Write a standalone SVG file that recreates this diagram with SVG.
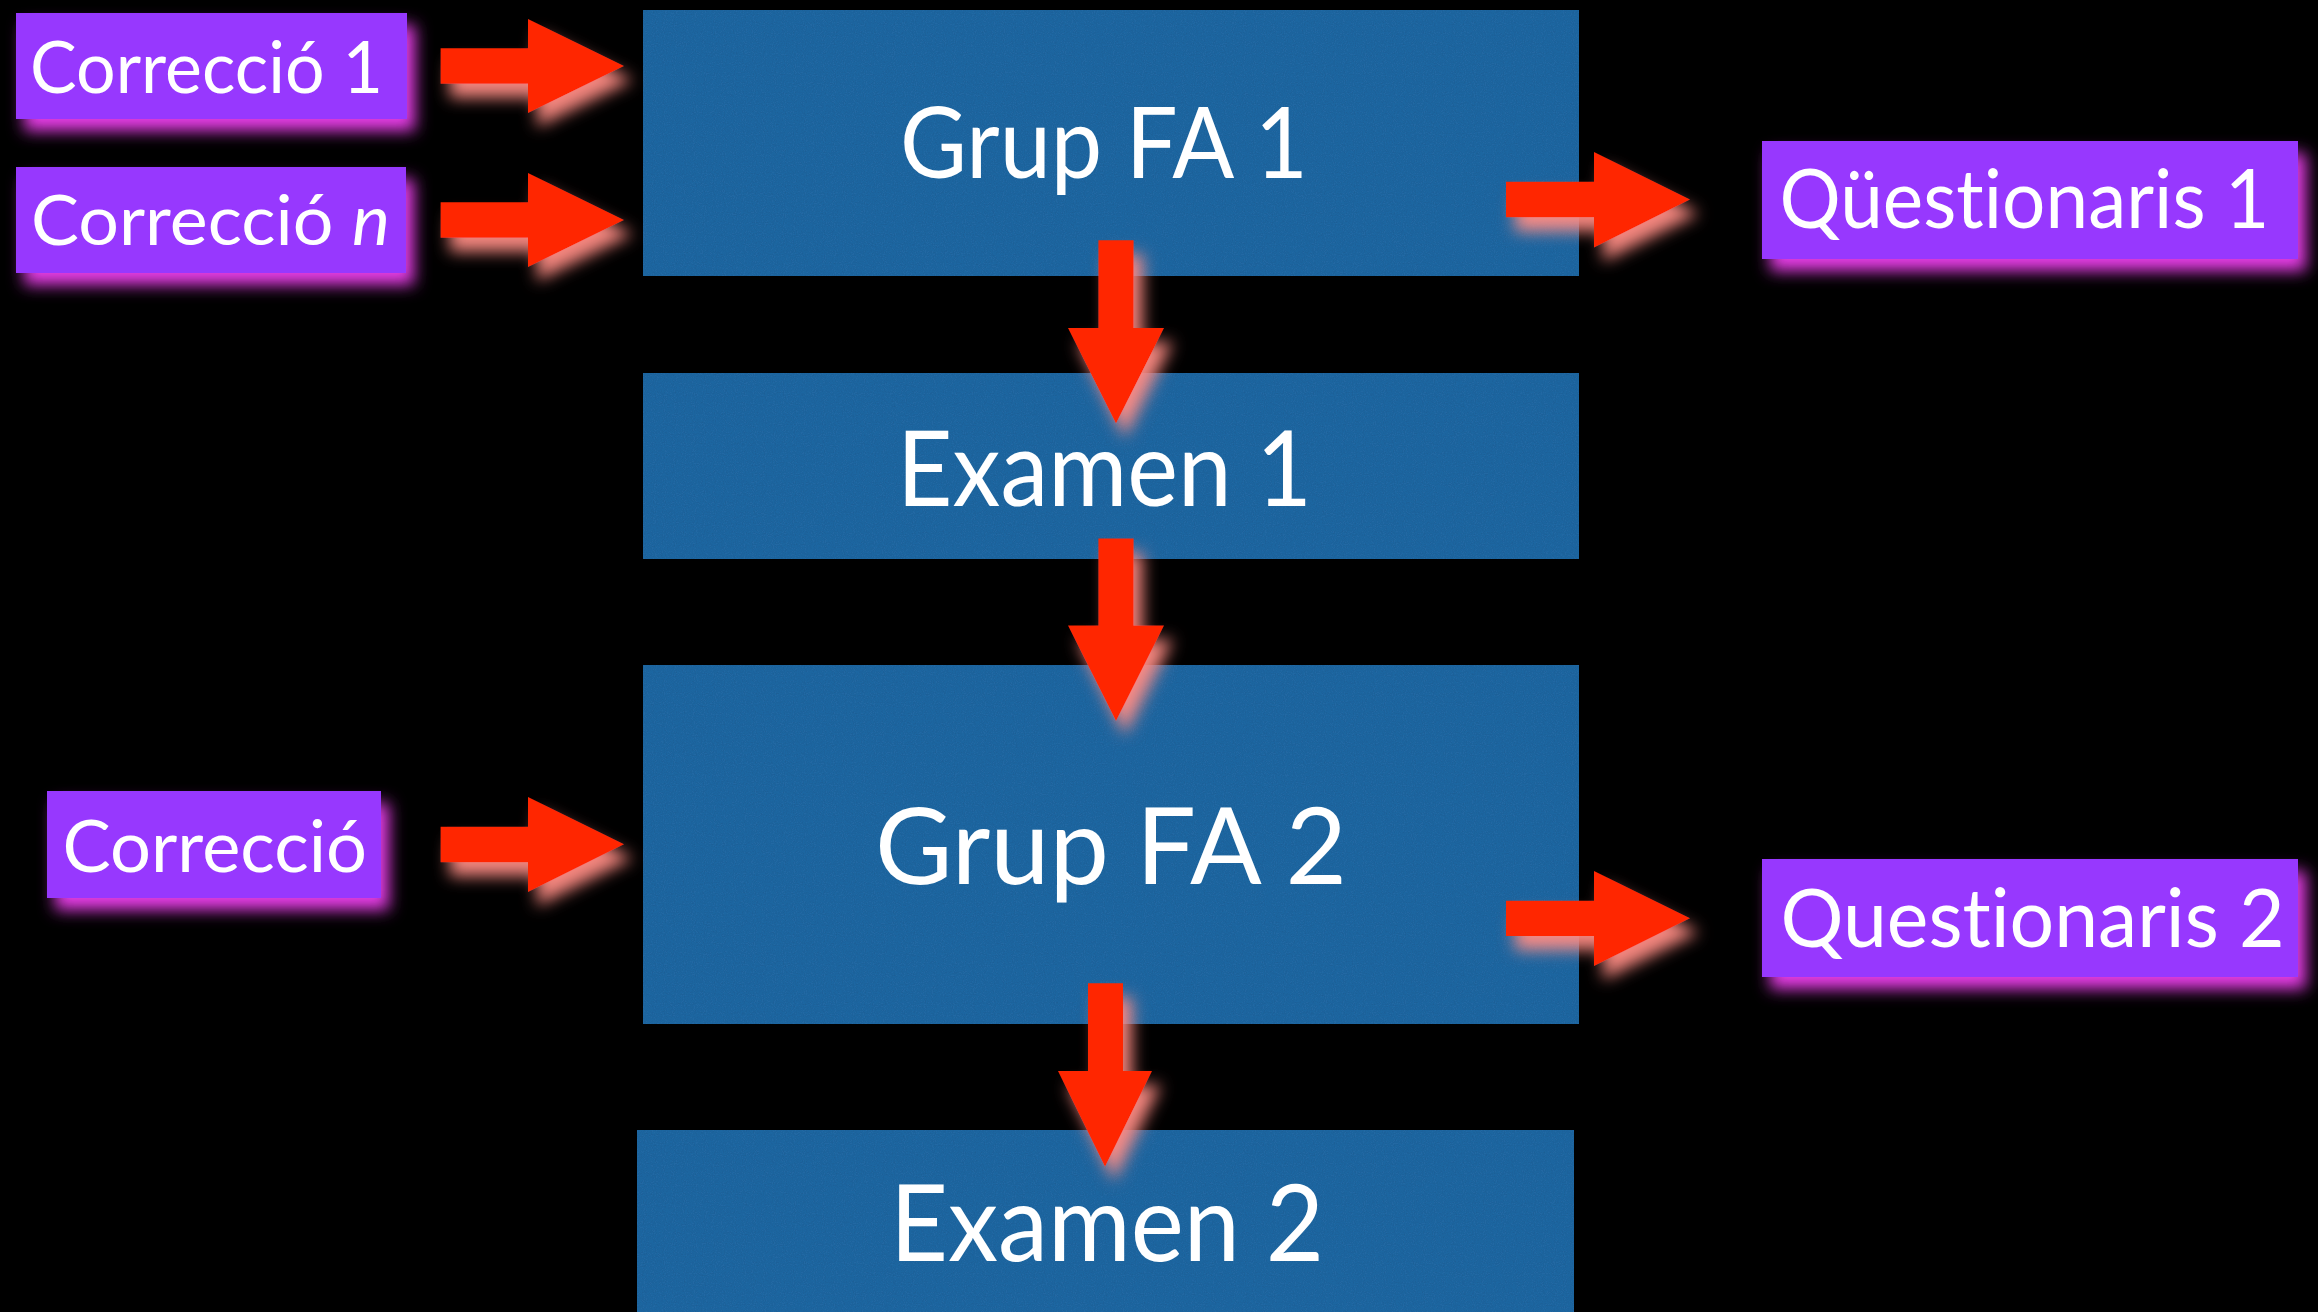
<svg xmlns="http://www.w3.org/2000/svg" width="2318" height="1312" viewBox="0 0 2318 1312">
  <style>
    .stage { fill: #2367a3; filter: url(#grain); }
    .tag { fill: #9738fe; filter: url(#tagGlow); }
    .big, .small { font-family: Lato, "Open Sans", "Liberation Sans", sans-serif; fill: #ffffff; font-variant-ligatures: none; font-feature-settings: "liga" 0, "dlig" 0; }
    .arrow { fill: #ff2600; filter: url(#arrowGlow); }
  </style>
  <defs>
    <!-- fine paper grain on the blue stage boxes -->
    <filter id="grain" x="0" y="0" width="100%" height="100%">
      <feTurbulence type="fractalNoise" baseFrequency="0.9" numOctaves="2" seed="4" result="noise"/>
      <feColorMatrix in="noise" type="matrix" values="0 0 0 0 0  0 0 0 0 0  0 0 0 0 0  0.3 0 0 0 -0.1" result="dots"/>
      <feComposite in="dots" in2="SourceGraphic" operator="in" result="speck"/>
      <feMerge>
        <feMergeNode in="SourceGraphic"/>
        <feMergeNode in="speck"/>
      </feMerge>
    </filter>
    <!-- magenta glow under the purple tags -->
    <filter id="tagGlow" x="-15%" y="-30%" width="140%" height="180%">
      <feGaussianBlur in="SourceAlpha" stdDeviation="8"/>
      <feOffset dx="8" dy="12" result="blur"/>
      <feFlood flood-color="#e63de6"/>
      <feComposite in2="blur" operator="in"/>
      <feMerge>
        <feMergeNode/>
        <feMergeNode in="SourceGraphic"/>
      </feMerge>
    </filter>
    <!-- soft salmon shadow under the red arrows -->
    <filter id="arrowGlow" x="-30%" y="-30%" width="170%" height="170%">
      <feGaussianBlur in="SourceAlpha" stdDeviation="8"/>
      <feOffset dx="9" dy="14" result="blur"/>
      <feFlood flood-color="#ff8c84" flood-opacity="0.95"/>
      <feComposite in2="blur" operator="in"/>
      <feMerge>
        <feMergeNode/>
        <feMergeNode in="SourceGraphic"/>
      </feMerge>
    </filter>
  </defs>

  <rect width="2318" height="1312" fill="#000000"/>

  <!-- main flow -->
  <g id="grup-fa-1">
    <rect class="stage" x="643" y="10" width="936" height="266"/>
    <text class="big" x="900" y="177.5" font-size="99" textLength="408" lengthAdjust="spacingAndGlyphs">Grup FA 1</text>
  </g>
  <g id="examen-1">
    <rect class="stage" x="643" y="373" width="936" height="186"/>
    <text class="big" x="897" y="505.5" font-size="105" textLength="415" lengthAdjust="spacingAndGlyphs">Examen 1</text>
  </g>
  <g id="grup-fa-2">
    <rect class="stage" x="643" y="665" width="936" height="359"/>
    <text class="big" x="875" y="884" font-size="106" textLength="472" lengthAdjust="spacingAndGlyphs">Grup FA 2</text>
  </g>
  <g id="examen-2">
    <rect class="stage" x="637" y="1130" width="937" height="200"/>
    <text class="big" x="890" y="1261" font-size="107" textLength="434" lengthAdjust="spacingAndGlyphs">Examen 2</text>
  </g>

  <!-- inputs -->
  <g id="correccio-1">
    <rect class="tag" x="16" y="13" width="391" height="106"/>
    <text class="small" x="30" y="92.7" font-size="71" textLength="353" lengthAdjust="spacingAndGlyphs">Correcció 1</text>
  </g>
  <g id="correccio-n">
    <rect class="tag" x="16" y="167" width="390" height="106"/>
    <text class="small" x="31" y="245" font-size="70" textLength="359" lengthAdjust="spacingAndGlyphs">Correcció <tspan font-style="italic">n</tspan></text>
  </g>
  <g id="correccio">
    <rect class="tag" x="47" y="791" width="334" height="107"/>
    <text class="small" x="62.5" y="871.7" font-size="72" textLength="304.5" lengthAdjust="spacingAndGlyphs">Correcció</text>
  </g>

  <!-- outputs -->
  <g id="questionaris-1">
    <rect class="tag" x="1762" y="141" width="536" height="118"/>
    <text class="small" x="1779.5" y="228.3" font-size="81" textLength="490" lengthAdjust="spacingAndGlyphs">Qüestionaris 1</text>
  </g>
  <g id="questionaris-2">
    <rect class="tag" x="1762" y="859" width="536" height="118"/>
    <text class="small" x="1780.6" y="946.7" font-size="82" textLength="504" lengthAdjust="spacingAndGlyphs">Questionaris 2</text>
  </g>

  <!-- connectors -->
  <g id="connectors">
    <path class="arrow" d="M440.6,48.3 H528 V19 L624,66 L528,113 V83.7 H440.6 Z"/>
    <path class="arrow" d="M440.6,202.3 H528 V173 L624,220 L528,267 V237.7 H440.6 Z"/>
    <path class="arrow" d="M440.6,826.7 H528 V797 L624,844.3 L528,892 V862.3 H440.6 Z"/>
    <path class="arrow" d="M1506,181.7 H1594 V152 L1690,199.5 L1594,247.5 V217.3 H1506 Z"/>
    <path class="arrow" d="M1506,900.7 H1594 V871 L1690,918.3 L1594,966 V936 H1506 Z"/>
    <path class="arrow" d="M1098.4,240.3 V328 H1068 L1116,423.4 L1164,328 H1133.6 V240.3 Z"/>
    <path class="arrow" d="M1098.4,538.5 V625.5 H1068 L1116,720.9 L1164,625.5 H1133.6 V538.5 Z"/>
    <path class="arrow" d="M1088,983.3 V1071 H1058 L1105,1166.7 L1152,1071 H1123 V983.3 Z"/>
  </g>
</svg>
